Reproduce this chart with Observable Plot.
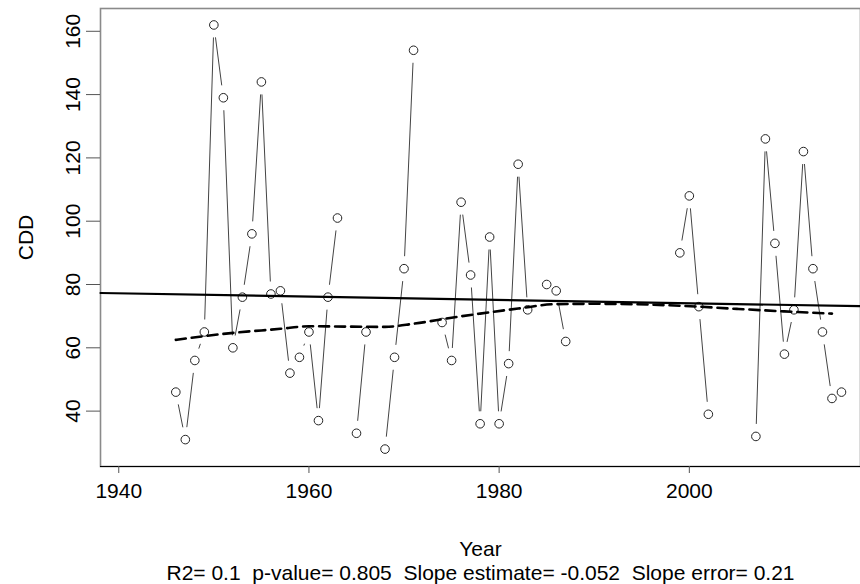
<!DOCTYPE html>
<html><head><meta charset="utf-8">
<script src="https://cdn.jsdelivr.net/npm/d3@7"></script>
<script src="https://cdn.jsdelivr.net/npm/@observablehq/plot@0.6"></script>
<style>body{margin:0;background:#fff;} #chart svg{display:block;}</style>
</head><body><div id="chart"></div>
<script>
const years = [1946,1947,1948,1949,1950,1951,1952,1953,1954,1955,1956,1957,1958,1959,1960,1961,1962,1963,
  1965,1966,1968,1969,1970,1971,1974,1975,1976,1977,1978,1979,1980,1981,1982,1983,1985,1986,1987,
  1999,2000,2001,2002,2007,2008,2009,2010,2011,2012,2013,2014,2015,2016];
const cdd = [46,31,56,65,162,139,60,76,96,144,77,78,52,57,65,37,76,101,
  33,65,28,57,85,154,68,56,106,83,36,95,36,55,118,72,80,78,62,
  90,108,73,39,32,126,93,58,72,122,85,65,44,46];
const smoothYears  = [1946,1951,1957,1960,1964,1968,1971,1975,1978,1982,1986,1990,1999,2005,2010,2015];
const smoothValues = [62.5,64.4,66.0,66.8,66.7,66.6,67.6,69.5,70.8,72.4,73.8,73.9,73.3,72.3,71.5,70.8];
const xTicks = [1940,1960,1980,2000];
const yTicks = [40,60,80,100,120,140,160];
const xDomain = [1938.08, 2018.0];
const yDomain = [22.5, 167.2];
const xLabel = "Year";
const yLabel = "CDD";
const caption = "R2= 0.1  p-value= 0.805  Slope estimate= -0.052  Slope error= 0.21";

const W = 860, H = 584, mL = 100, mR = 0, mT = 8, mB = 118;
const FONT = "Liberation Sans, Arial, sans-serif";
const FS = 21;

const pts = years.map((y, i) => ({year: y, value: cdd[i]}));
const kx = (W - mL - mR) / (xDomain[1] - xDomain[0]);
const ky = (H - mT - mB) / (yDomain[1] - yDomain[0]);
const GAP = 12.5;
const segs = [];
for (let i = 0; i < years.length - 1; i++) {
  if (years[i + 1] - years[i] !== 1) continue;
  const len = Math.hypot((years[i + 1] - years[i]) * kx, (cdd[i + 1] - cdd[i]) * ky);
  if (len > 2 * GAP + 1) segs.push({x1: years[i], y1: cdd[i], x2: years[i + 1], y2: cdd[i + 1]});
}
const mx = d3.mean(years), my = d3.mean(cdd);
const slope = d3.sum(years.map((x, i) => (x - mx) * (cdd[i] - my))) / d3.sum(years.map(x => (x - mx) ** 2));
const reg = xDomain.map(x => ({year: x, value: my + slope * (x - mx)}));
const smooth = smoothYears.map((y, i) => ({year: y, value: smoothValues[i]}));

const chart = Plot.plot({
  width: W, height: H,
  marginLeft: mL, marginRight: mR, marginTop: mT, marginBottom: mB,
  style: {fontFamily: FONT, fontSize: FS + "px", background: "white", color: "black"},
  x: {domain: xDomain, axis: null},
  y: {domain: yDomain, axis: null},
  marks: [
    Plot.frame({stroke: "#8a8a8a", strokeWidth: 1.6}),
    Plot.ruleY([yDomain[0]], {stroke: "black", strokeWidth: 1.2}),
    Plot.axisX(xTicks, {tickSize: 7, tickPadding: 10, fontSize: FS, stroke: "#555", label: null, tickFormat: d => String(d)}),
    Plot.axisY(yTicks, {tickSize: 14, fontSize: FS, stroke: "#555", label: null, tickFormat: () => ""}),
    Plot.text(yTicks, {y: d => d, frameAnchor: "left", dx: -27, rotate: -90, textAnchor: "middle", lineAnchor: "middle", fontSize: FS, text: d => String(d), fill: "black"}),
    Plot.text([yLabel], {frameAnchor: "left", dx: -74, rotate: -90, textAnchor: "middle", lineAnchor: "middle", fontSize: FS, fill: "black"}),
    Plot.text([xLabel], {frameAnchor: "bottom", dy: 83, textAnchor: "middle", lineAnchor: "middle", fontSize: FS, fill: "black"}),
    Plot.text([caption], {frameAnchor: "bottom", dy: 107, textAnchor: "middle", lineAnchor: "middle", fontSize: FS, fill: "black"}),
    Plot.arrow(segs, {x1: "x1", y1: "y1", x2: "x2", y2: "y2", insetStart: GAP, insetEnd: GAP, headLength: 0, stroke: "#444", strokeWidth: 1, strokeLinecap: "butt"}),
    Plot.dot(pts, {x: "year", y: "value", r: 4.3, stroke: "#222", fill: "white", strokeWidth: 1}),
    Plot.line(reg, {x: "year", y: "value", stroke: "black", strokeWidth: 2.2}),
    Plot.line(smooth, {x: "year", y: "value", stroke: "black", strokeWidth: 2.6, strokeDasharray: "10,6", curve: "monotone-x"})
  ]
});
document.getElementById("chart").appendChild(chart);
</script>
</body></html>
